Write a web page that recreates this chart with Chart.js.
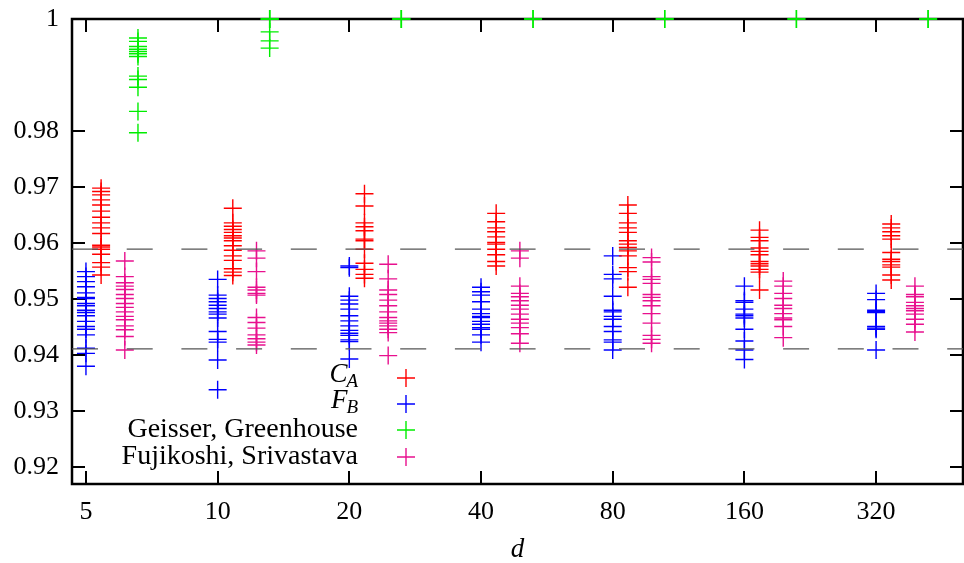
<!DOCTYPE html>
<html>
<head>
<meta charset="utf-8">
<script src="https://cdn.jsdelivr.net/npm/chart.js@4.4.0/dist/chart.umd.min.js"></script>
<style>
  html, body { margin: 0; padding: 0; background: #fff; }
  #wrap { width: 964px; height: 563px; }
  .fontwarm { position: absolute; left: -9999px; top: 0; font-size: 26px; }
</style>
</head>
<body>
<span class="fontwarm" style="font-family: 'Liberation Serif';">0.95 Geisser</span>
<span class="fontwarm" style="font-family: 'Liberation Serif'; font-style: italic;">C d</span>
<div id="wrap"><canvas id="coverageChart"></canvas></div>
<script>
// dimensions d (one tick per doubling)
var dValues = [5, 10, 20, 40, 80, 160, 320];
var yTickValues = [0.92, 0.93, 0.94, 0.95, 0.96, 0.97, 0.98, 1];
var refLines = [0.9589, 0.9411];
var seriesLabels = ["C_A", "F_B", "Geisser, Greenhouse", "Fujikoshi, Srivastava"];

// coverage values per d
var caValues = [
    [0.9698, 0.9692, 0.9686, 0.9677, 0.9668, 0.9657, 0.9646, 0.9636, 0.9627, 0.9617, 0.9596, 0.9593, 0.9589, 0.9580, 0.9565, 0.9557, 0.9543],
    [0.9662, 0.9636, 0.9630, 0.9624, 0.9619, 0.9613, 0.9609, 0.9604, 0.9595, 0.9587, 0.9577, 0.9569, 0.9554, 0.9548, 0.9542],
    [0.9688, 0.9666, 0.9636, 0.9629, 0.9622, 0.9607, 0.9604, 0.9589, 0.9564, 0.9553, 0.9544, 0.9537],
    [0.9653, 0.9638, 0.9627, 0.9620, 0.9611, 0.9601, 0.9598, 0.9589, 0.9579, 0.9567, 0.9559],
    [0.9668, 0.9653, 0.9636, 0.9627, 0.9619, 0.9604, 0.9598, 0.9592, 0.9586, 0.9577, 0.9556, 0.9549, 0.9521],
    [0.9623, 0.9610, 0.9604, 0.9591, 0.9585, 0.9579, 0.9567, 0.9563, 0.9559, 0.9553, 0.9548, 0.9516],
    [0.9634, 0.9627, 0.9620, 0.9613, 0.9607, 0.9583, 0.9571, 0.9567, 0.9561, 0.9557, 0.9543, 0.9534]
];
var fbValues = [
    [0.9549, 0.9540, 0.9531, 0.9522, 0.9511, 0.9503, 0.9501, 0.9492, 0.9488, 0.9480, 0.9476, 0.9470, 0.9460, 0.9451, 0.9446, 0.9436, 0.9412, 0.9403, 0.9380],
    [0.9535, 0.9507, 0.9501, 0.9495, 0.9489, 0.9483, 0.9477, 0.9473, 0.9466, 0.9442, 0.9428, 0.9423, 0.9391, 0.9338],
    [0.9559, 0.9556, 0.9505, 0.9498, 0.9491, 0.9482, 0.9470, 0.9461, 0.9452, 0.9444, 0.9439, 0.9435, 0.9427, 0.9424, 0.9393],
    [0.9521, 0.9513, 0.9507, 0.9495, 0.9482, 0.9474, 0.9469, 0.9467, 0.9460, 0.9455, 0.9449, 0.9446, 0.9436, 0.9423],
    [0.9577, 0.9544, 0.9536, 0.9505, 0.9480, 0.9477, 0.9469, 0.9464, 0.9451, 0.9442, 0.9427, 0.9423, 0.9409],
    [0.9523, 0.9497, 0.9494, 0.9482, 0.9473, 0.9470, 0.9466, 0.9446, 0.9425, 0.9409, 0.9392],
    [0.9510, 0.9499, 0.9480, 0.9478, 0.9476, 0.9451, 0.9448, 0.9446, 0.9409]
];
var ggValues = [
    [0.9966, 0.9960, 0.9951, 0.9946, 0.9942, 0.9938, 0.9933, 0.9898, 0.9892, 0.9878, 0.9835, 0.9797],
    [1, 1, 1, 0.9977, 0.9961, 0.9948],
    [1, 1, 1],
    [1, 1],
    [1, 1],
    [1, 1],
    [1, 1]
];
var fsValues = [
    [0.9568, 0.9540, 0.9529, 0.9523, 0.9517, 0.9508, 0.9501, 0.9492, 0.9485, 0.9477, 0.9469, 0.9463, 0.9452, 0.9445, 0.9433, 0.9409],
    [0.9586, 0.9573, 0.9549, 0.9521, 0.9516, 0.9510, 0.9507, 0.9467, 0.9458, 0.9448, 0.9436, 0.9429, 0.9423, 0.9418],
    [0.9562, 0.9536, 0.9516, 0.9508, 0.9498, 0.9488, 0.9477, 0.9467, 0.9461, 0.9457, 0.9452, 0.9446, 0.9440, 0.9399],
    [0.9586, 0.9573, 0.9523, 0.9510, 0.9504, 0.9497, 0.9489, 0.9482, 0.9473, 0.9464, 0.9457, 0.9449, 0.9438, 0.9421],
    [0.9574, 0.9566, 0.9540, 0.9535, 0.9528, 0.9508, 0.9503, 0.9497, 0.9488, 0.9474, 0.9457, 0.9435, 0.9428, 0.9421],
    [0.9532, 0.9523, 0.9510, 0.9501, 0.9489, 0.9483, 0.9474, 0.9466, 0.9463, 0.9451, 0.9431],
    [0.9523, 0.9508, 0.9504, 0.9494, 0.9488, 0.9483, 0.9479, 0.9473, 0.9464, 0.9455, 0.9441]
];

var seriesColors = ["#ff0000", "#0000ff", "#00ee00", "#e8108e"];
// horizontal shift of each method next to its d (in units of one doubling)
var seriesShift = [0.115, 0, 0.395, 0.295];
var serifFamily = '"Liberation Serif", "DejaVu Serif", serif';

function toPoints(groups, shift) {
    var pts = [];
    for (var i = 0; i < groups.length; i++) {
        for (var j = 0; j < groups[i].length; j++) {
            pts.push({ x: i + shift, y: groups[i][j] });
        }
    }
    return pts;
}

function crossDataset(label, groups, idx) {
    return {
        type: 'scatter',
        label: label,
        data: toPoints(groups, seriesShift[idx]),
        pointStyle: 'cross',
        pointRadius: 9,
        pointHoverRadius: 9,
        borderWidth: 1.4,
        borderColor: seriesColors[idx],
        backgroundColor: seriesColors[idx],
        clip: false
    };
}

function refDataset(v) {
    return {
        type: 'line',
        label: 'ref',
        data: [{ x: -0.106, y: v }, { x: 6.66, y: v }],
        borderColor: '#555555',
        borderWidth: 1.2,
        borderDash: [26, 28.7],
        pointRadius: 0,
        fill: false
    };
}

// frame box and inward ticks on all four sides
var framePlugin = {
    id: 'frame',
    beforeDatasetsDraw: function (chart) {
        var ctx = chart.ctx, a = chart.chartArea;
        var xs = chart.scales.x, ys = chart.scales.y;
        var tl = 13;
        ctx.save();
        ctx.strokeStyle = '#000';
        ctx.lineWidth = 2;
        ctx.beginPath();
        xs.ticks.forEach(function (t) {
            var px = Math.round(xs.getPixelForValue(t.value));
            ctx.moveTo(px, a.bottom); ctx.lineTo(px, a.bottom - tl);
            ctx.moveTo(px, a.top); ctx.lineTo(px, a.top + tl);
        });
        ys.ticks.forEach(function (t) {
            var py = Math.round(ys.getPixelForValue(t.value));
            ctx.moveTo(a.left, py); ctx.lineTo(a.left + tl, py);
            ctx.moveTo(a.right, py); ctx.lineTo(a.right - tl, py);
        });
        ctx.stroke();
        ctx.lineWidth = 2.5;
        ctx.strokeRect(a.left, a.top, a.right - a.left, a.bottom - a.top);
        ctx.restore();
    }
};

// gnuplot-style key: label right aligned, sample cross to the right
var keyPlugin = {
    id: 'key',
    afterDatasetsDraw: function (chart) {
        var ctx = chart.ctx;
        var textRight = 358, sampleX = 406;
        var rowsY = [378, 404, 430, 457];
        ctx.save();
        ctx.fillStyle = '#000';
        ctx.textBaseline = 'middle';
        for (var i = 0; i < seriesLabels.length; i++) {
            var y = rowsY[i];
            var lab = seriesLabels[i];
            if (lab.indexOf('_') > 0) {
                var main = lab.split('_')[0], sub = lab.split('_')[1];
                ctx.font = 'italic 27px ' + serifFamily;
                var wMain = ctx.measureText(main).width;
                ctx.font = 'italic 19px ' + serifFamily;
                var wSub = ctx.measureText(sub).width;
                var x0 = textRight - wSub - wMain + 1;
                ctx.textAlign = 'left';
                ctx.font = 'italic 27px ' + serifFamily;
                ctx.fillText(main, x0, y - 3);
                ctx.font = 'italic 19px ' + serifFamily;
                ctx.fillText(sub, x0 + wMain - 1, y + 4);
            } else {
                ctx.textAlign = 'right';
                ctx.font = '28px ' + serifFamily;
                ctx.fillText(lab, textRight, y);
            }
            ctx.strokeStyle = seriesColors[i];
            ctx.lineWidth = 1.4;
            ctx.beginPath();
            ctx.moveTo(sampleX - 9, y); ctx.lineTo(sampleX + 9, y);
            ctx.moveTo(sampleX, y - 9); ctx.lineTo(sampleX, y + 9);
            ctx.stroke();
        }
        ctx.restore();
    }
};

function initCoverageChart() {
    Chart.defaults.font.family = serifFamily;
    Chart.defaults.font.size = 26;
    Chart.defaults.color = '#000';

    var datasets = [
        refDataset(refLines[0]),
        refDataset(refLines[1]),
        crossDataset(seriesLabels[0], caValues, 0),
        crossDataset(seriesLabels[1], fbValues, 1),
        crossDataset(seriesLabels[2], ggValues, 2),
        crossDataset(seriesLabels[3], fsValues, 3)
    ];

    var canvas = document.getElementById('coverageChart').getContext('2d');
    new Chart(canvas, {
        type: 'scatter',
        data: { datasets: datasets },
        options: {
            responsive: true,
            maintainAspectRatio: false,
            animation: false,
            layout: {
                autoPadding: false,
                padding: { top: 19, right: 1, left: 0, bottom: 0 }
            },
            plugins: {
                legend: { display: false },
                tooltip: { enabled: false }
            },
            scales: {
                x: {
                    type: 'linear',
                    min: -0.106,
                    max: 6.66,
                    grid: { display: false, drawTicks: false },
                    border: { display: false },
                    afterFit: function (scale) {
                        scale.height = 79;
                        scale.paddingLeft = 0;
                        scale.paddingRight = 0;
                    },
                    afterBuildTicks: function (scale) {
                        scale.ticks = dValues.map(function (d, i) { return { value: i }; });
                    },
                    ticks: {
                        padding: 13,
                        maxRotation: 0,
                        callback: function (v) { return String(dValues[v]); }
                    },
                    title: {
                        display: true,
                        text: 'd',
                        font: { style: 'italic', size: 27, lineHeight: 1 },
                        padding: { top: 0, bottom: 0 }
                    }
                },
                y: {
                    type: 'linear',
                    min: 0.91697,
                    max: 1,
                    grid: { display: false, drawTicks: false },
                    border: { display: false },
                    afterFit: function (scale) {
                        scale.width = 72;
                        scale.paddingTop = 0;
                        scale.paddingBottom = 0;
                    },
                    afterBuildTicks: function (scale) {
                        scale.ticks = yTickValues.map(function (v) { return { value: v }; });
                    },
                    ticks: {
                        padding: 13,
                        callback: function (v) { return String(Math.round(v * 100) / 100); }
                    }
                }
            }
        },
        plugins: [framePlugin, keyPlugin]
    });
}

if (document.fonts && document.fonts.load) {
    Promise.all([
        document.fonts.load('26px "Liberation Serif"'),
        document.fonts.load('italic 26px "Liberation Serif"')
    ]).then(initCoverageChart, initCoverageChart);
} else {
    initCoverageChart();
}
</script>
</body>
</html>
